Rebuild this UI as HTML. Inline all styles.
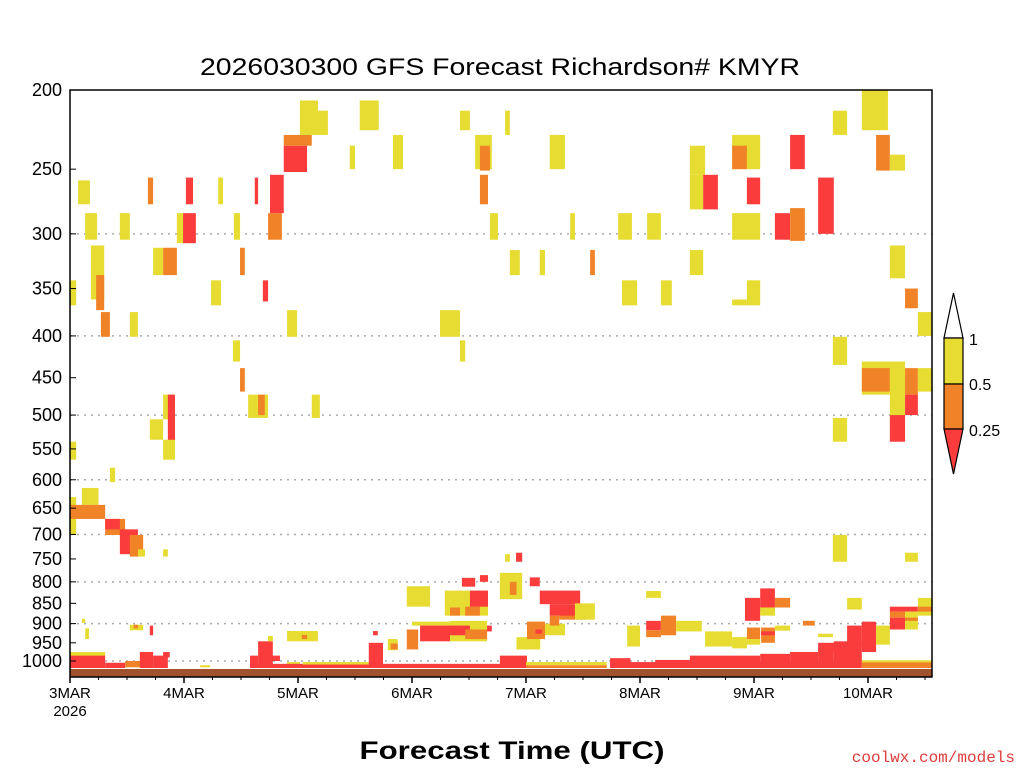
<!DOCTYPE html>
<html><head><meta charset="utf-8"><style>
html,body{margin:0;padding:0;background:#fff;}
svg{display:block;font-family:"Liberation Sans",sans-serif;}
</style></head><body>
<svg id="chart" width="1024" height="768" viewBox="0 0 1024 768" xmlns="http://www.w3.org/2000/svg">
<rect width="1024" height="768" fill="#fff"/>
<text x="500" y="75" text-anchor="middle" font-size="24" textLength="600" lengthAdjust="spacingAndGlyphs" fill="#000">2026030300 GFS Forecast Richardson# KMYR</text>
<g id="grid"></g>
<g id="cells"></g>
<rect x="70" y="669" width="862" height="8" fill="#a0522d"/>
<rect x="70" y="90" width="862" height="587" fill="none" stroke="#000" stroke-width="1.5"/>
<g id="yaxis"></g>
<g id="xaxis"></g>
<text x="512" y="759" text-anchor="middle" font-size="25" font-weight="bold" textLength="305" lengthAdjust="spacingAndGlyphs">Forecast Time (UTC)</text>
<text x="1015" y="762" text-anchor="end" font-size="16" fill="#e03c3c" font-family="Liberation Mono, monospace">coolwx.com/models</text>
<g>
<polygon points="944,338 963,338 953.5,293" fill="#fff" stroke="#000" stroke-width="1.2"/>
<rect x="944" y="338" width="19" height="46" fill="#e6dc32" stroke="#000" stroke-width="1.2"/>
<rect x="944" y="384" width="19" height="45" fill="#f08228" stroke="#000" stroke-width="1.2"/>
<polygon points="944,429 963,429 953.5,474" fill="#fa3c3c" stroke="#000" stroke-width="1.2"/>
<text x="969" y="345" font-size="16">1</text>
<text x="969" y="390" font-size="16">0.5</text>
<text x="969" y="436" font-size="16">0.25</text>
</g>
</svg>
<script>
const pressureTicks=[200,250,300,350,400,450,500,550,600,650,700,750,800,850,900,950,1000];
const gridLevels=[300,400,500,600,700,800,900,1000];
const dayLabels=["3MAR","4MAR","5MAR","6MAR","7MAR","8MAR","9MAR","10MAR"];
const categoryColors=["","#e6dc32","#f08228","#fa3c3c"];
// cells: [startHour, endHour, topPressure, bottomPressure, category]
const cells=[
[1.7,4.2,258,276,1],[3.2,5.7,283,305,1],[4.4,7.2,310,361,1],[5.5,7.2,337,372,2],[6.5,8.4,374,401,2],
[0,1.3,342,367,1],[10.5,12.6,283,305,1],[12.6,14.3,374,401,1],[16.4,17.5,256,276,2],[17.5,19.6,312,337,1],
[19.6,22.5,312,337,2],[22.5,23.8,283,308,1],[23.8,26.5,283,308,3],[24.4,25.9,256,276,3],[29.7,31.8,342,367,1],
[31.2,32.2,256,276,1],[34.5,35.8,283,305,1],[35.8,36.8,312,337,2],[38.9,39.6,256,276,3],[41.7,44.6,283,305,2],
[40.6,41.7,342,363,3],[42.1,45,254,283,3],[45,49.9,234,252,3],[45,50.9,227,234,2],[48.4,52.2,206,227,1],
[52.2,54.3,212,227,1],[45.7,47.8,372,401,1],[34.3,35.8,405,430,1],[35.8,36.8,438,468,2],[37.5,41.7,472,504,1],
[39.6,41,472,500,2],[50.9,52.6,472,504,1],[19.6,22.1,472,506,1],[20.6,22.1,472,539,3],[16.8,19.6,506,536,1],
[19.6,22.1,536,567,1],[0,1.3,539,567,1],[8.4,9.5,580,604,1],[58.9,60,234,250,1],[61,65,206,224,1],
[68,70.1,227,250,1],[77.9,82.1,372,401,1],[82.1,83.2,405,430,1],[82.1,84.2,212,224,1],[85.3,88.8,227,250,1],
[86.3,88.4,234,251,2],[86.3,88,254,276,2],[88.4,90.1,283,305,1],[91.6,92.6,212,227,1],[92.6,94.7,314,337,1],
[98.9,100,314,337,1],[101,104.2,227,250,1],[105.3,106.3,283,305,1],[109.5,110.5,314,337,2],[115.4,118.3,283,305,1],
[121.5,124.4,283,305,1],[116.2,119.4,342,367,1],[124.4,126.7,342,367,1],[130.5,133.7,234,254,1],[130.5,133.3,254,280,1],
[133.3,136.4,254,280,3],[130.5,133.3,314,337,1],[139.4,145.3,227,250,1],[139.4,142.5,234,250,2],[142.5,145.3,256,276,3],
[139.4,145.3,283,305,1],[142.5,145.3,342,367,1],[139.4,142.5,361,367,1],[148.4,151.6,283,305,3],[151.6,154.7,279,306,2],
[151.6,154.7,227,250,3],[157.5,160.8,256,300,3],[160.6,163.6,212,227,1],[166.7,172.2,200,224,1],[169.7,172.6,227,251,2],
[172.6,175.8,240,251,1],[172.6,175.8,310,340,1],[175.8,178.5,350,370,2],[178.5,181.5,374,400,1],[160.6,163.6,401,434,1],
[166.7,175.8,430,472,1],[166.7,172.6,438,468,2],[172.6,175.8,438,504,1],[175.8,178.5,438,472,2],[178.5,181.5,438,468,1],
[175.8,178.5,472,500,3],[172.6,175.8,500,539,3],[160.6,163.6,504,539,1],[160.6,163.6,701,756,1],[175.8,178.5,737,756,1],
[0,1.3,630,701,1],[2.5,6,614,644,1],[0,7.4,644,670,2],[7.4,11.6,670,701,2],[7.4,10.5,670,690,3],
[10.5,14.3,690,740,3],[12.6,15.4,701,745,2],[14.3,15.8,730,745,1],[19.6,20.6,730,745,1],
[0,7.4,975,990,1],[0,7.4,985,1020,3],[7.4,11.6,1005,1020,3],[11.6,16.8,1000,1018,2],[14.7,17.5,975,1020,3],
[17.5,20.6,985,1020,3],[19.6,21,975,990,3],[2.5,3.2,888,898,1],[3.2,4,912,940,1],[12.6,15.4,903,917,1],
[13.4,14.3,903,912,2],[16.8,17.5,905,930,3],[27.4,29.5,1012,1018,1],[39.6,42.7,946,1020,3],[41.7,42.7,932,946,1],
[37.9,39.6,985,1015,3],[42.1,44.2,985,1000,3],[45.7,52.2,919,946,1],[48.8,49.9,929,940,2],[45.7,48.4,1003,1014,1],
[37.9,96,1008,1020,3],[49,63,1003,1010,1],[62.9,65.9,950,1010,3],[63.8,64.8,919,930,3],[66.9,69,940,970,1],
[67.5,69,952,968,2],[70.9,73.3,915,968,2],[72,80,895,905,1],[73.7,80,905,946,3],[80,87.8,893,946,1],
[80,84.2,905,930,3],[83.2,87.8,915,940,2],[87.8,88.8,905,920,3],[70.9,75.8,810,858,1],[78.9,88,820,880,1],
[80,82.1,860,880,2],[83.2,86.3,858,880,2],[84.2,88,820,858,3],[82.5,85.3,791,811,3],[86.3,88,785,800,3],
[90.5,95.2,780,840,1],[92.6,94,800,830,2],[91.6,92.6,740,756,1],[93.9,95.2,737,756,3],[96.8,98.9,790,810,3],
[98.9,107.4,820,852,3],[103,108.5,858,890,2],[101,106.3,852,880,3],[106.3,110.5,850,890,1],[94,99,935,968,1],
[96.2,100,895,940,2],[98,99.4,915,926,3],[100,104.2,900,930,1],[101,103,880,905,2],[90.5,96.2,985,1020,3],
[96,113,1003,1012,1],[96,113,1012,1020,2],[113.7,118,992,1020,3],[117.3,120,905,960,1],[121.3,124.4,893,917,3],
[121.3,124.4,917,935,2],[124.4,127.6,880,930,2],[127.6,133,893,920,1],[121.3,124.4,821,837,1],[117.9,166.7,1003,1020,3],
[123.2,130.5,997,1020,3],[130.5,145.3,985,1020,3],[145.3,151.6,980,1020,3],[151.6,157.5,975,1020,3],[157.5,160.8,968,1020,3],
[160.8,166.7,946,1010,3],[157.5,163.6,950,975,3],[166.7,181.5,1003,1020,2],[166.7,181.5,998,1004,1],
[133.7,139.4,920,960,1],[139.4,142.5,935,965,1],[142.5,145.3,910,940,2],[142.5,145.3,940,955,1],[145.5,148.4,910,950,2],
[145.5,148.4,920,930,3],[148.4,151.6,905,918,1],[142.1,145.3,837,893,3],[145.3,148.4,815,870,3],[145.3,148.4,860,880,1],
[148.4,151.6,837,860,2],[154.3,156.8,893,905,2],[157.5,160.6,926,935,1],[163.6,166.7,837,865,1],[163.6,166.7,905,960,3],
[166.7,169.7,895,975,3],[169.7,172.6,905,955,1],[172.6,178.5,858,870,3],[172.6,175.8,870,885,2],[172.6,175.8,885,915,3],
[175.8,178.5,870,915,1],[175.8,178.5,885,893,2],[178.5,181.5,837,880,1],[178.5,181.5,858,870,2]
];
const NS="http://www.w3.org/2000/svg";
const X0=70,X1=932,Y0=90,Y1=661,PXH=114/24;
function xScale(h){return X0+h*PXH;}
function yScale(p){return Y0+Math.log(p/200)/Math.log(1000/200)*(Y1-Y0);}
function mk(tag,attrs,parent){const e=document.createElementNS(NS,tag);for(const k in attrs)e.setAttribute(k,attrs[k]);parent.appendChild(e);return e;}
const gGrid=document.getElementById('grid'),gCells=document.getElementById('cells'),gY=document.getElementById('yaxis'),gX=document.getElementById('xaxis');
gridLevels.forEach(p=>{const y=yScale(p);const l=mk('line',{x1:X0,x2:X1,y1:y,y2:y,stroke:'#aaa','stroke-width':1.5,'stroke-dasharray':'2,5'},gGrid);

});
cells.forEach((c,i)=>{const x=xScale(c[0]),w=xScale(c[1])-x,y=yScale(c[2]),h=Math.min(yScale(c[3]),668)-y;
const r=mk('rect',{x:x,y:y,width:Math.max(w,1),height:Math.max(h,1),fill:categoryColors[c[4]]},gCells);

});
pressureTicks.forEach(p=>{const y=yScale(p);mk('line',{x1:X0,x2:X0+6,y1:y,y2:y,stroke:'#000'},gY);
const t=mk('text',{x:62,y:y+6,'text-anchor':'end','font-size':18},gY);t.textContent=p;

});
dayLabels.forEach((d,i)=>{const x=xScale(i*24);mk('line',{x1:x,x2:x,y1:677,y2:683,stroke:'#000','stroke-width':1.5},gX);
const t=mk('text',{x:x,y:698,'text-anchor':'middle','font-size':15},gX);t.textContent=d;

});
for(let k=0;k<=30;k++){const x=xScale(k*6);if(x<=X1)mk('line',{x1:x,x2:x,y1:677,y2:680,stroke:'#000'},gX);}
const yr=mk('text',{x:70,y:716,'text-anchor':'middle','font-size':15},gX);yr.textContent="2026";


</script>
</body></html>
